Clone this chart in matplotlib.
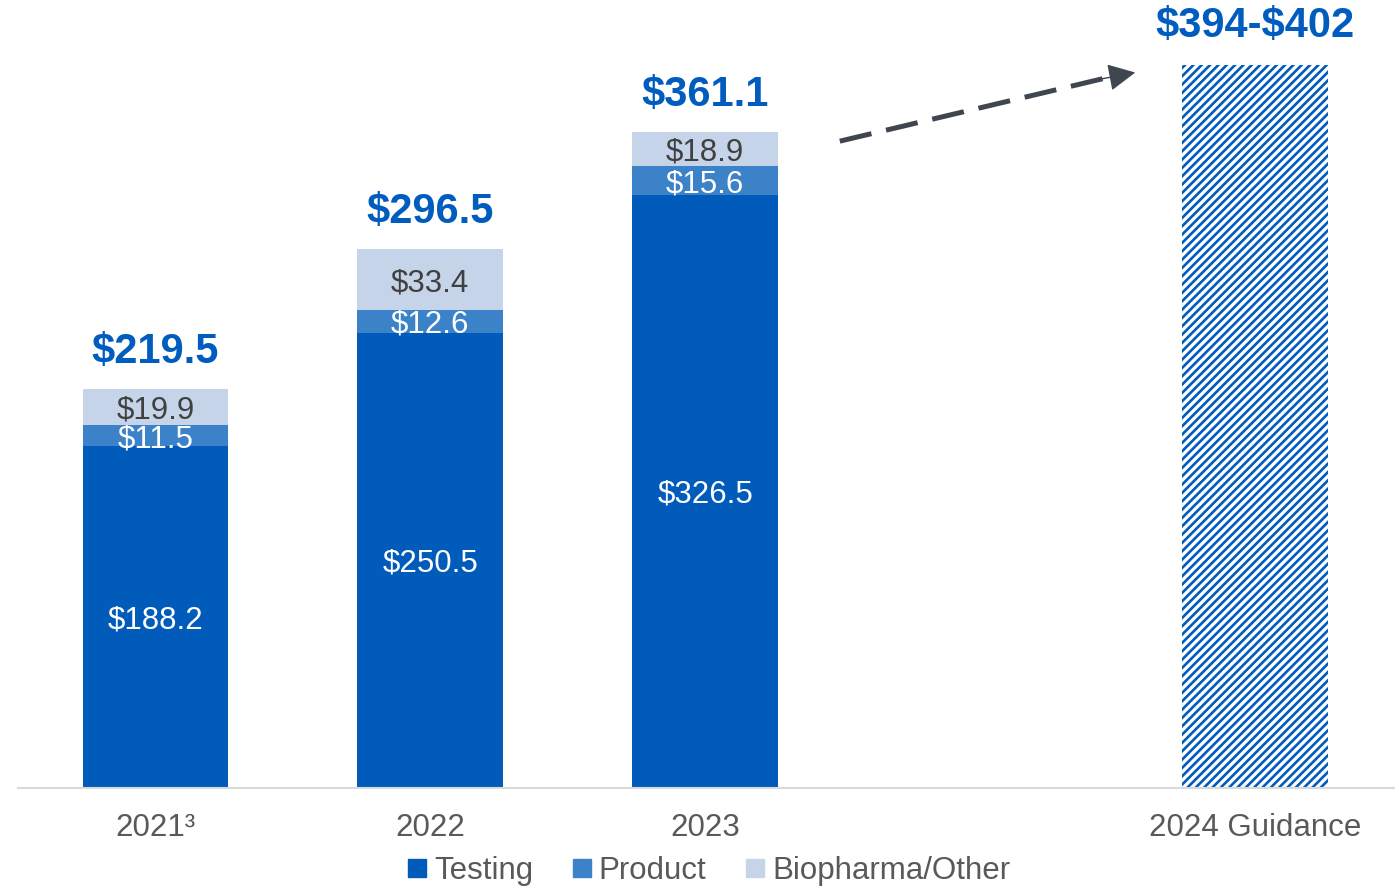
import matplotlib.pyplot as plt
import numpy as np
from matplotlib.lines import Line2D

plt.rcParams['font.family'] = ['Liberation Sans', 'DejaVu Sans']
plt.rcParams['hatch.linewidth'] = 1.9

years = ["2021\u00b3", "2022", "2023"]
guidance_label = "2024 Guidance"
testing = [188.2, 250.5, 326.5]
product = [11.5, 12.6, 15.6]
biopharma = [19.9, 33.4, 18.9]
totals = ["\\$219.5", "\\$296.5", "\\$361.1"]
guidance_mid = 398.0
guidance_text = "\\$394-\\$402"

c_test = "#005BBB"
c_prod = "#3B82C8"
c_bio = "#C5D4E8"
c_total = "#005CBF"
c_gray = "#595959"

fig = plt.figure(figsize=(13.95, 8.86), dpi=100)
ax = fig.add_axes([0.0129, 0.1106, 0.9871, 0.8894])

x = np.array([0, 1, 2])
w = 0.53
testing = np.array(testing)
product = np.array(product)
biopharma = np.array(biopharma)

ax.bar(x, testing, w, color=c_test)
ax.bar(x, product, w, bottom=testing, color=c_prod)
ax.bar(x, biopharma, w, bottom=testing + product, color=c_bio)

# segment labels
for i in range(3):
    ax.text(x[i], testing[i] / 2, f"\\${testing[i]:.1f}", ha="center", va="center_baseline",
            fontsize=22.5, color="white")
    ax.text(x[i], testing[i] + product[i] / 2, f"\\${product[i]:.1f}", ha="center",
            va="center_baseline", fontsize=22.5, color="white")
    ax.text(x[i], testing[i] + product[i] + biopharma[i] / 2, f"\\${biopharma[i]:.1f}",
            ha="center", va="center_baseline", fontsize=22.5, color="#404040")
    top = testing[i] + product[i] + biopharma[i]
    ax.annotate(totals[i], (x[i], top), xytext=(0, 30), textcoords="offset points",
                ha="center", va="center_baseline", fontsize=30, fontweight="bold", color=c_total)

# guidance bar
ax.bar([4], [guidance_mid], w, facecolor="white", edgecolor=c_test, linewidth=0, hatch="////")
ax.annotate(guidance_text, (4, guidance_mid), xytext=(0, 31), textcoords="offset points",
            ha="center", va="center_baseline", fontsize=30, fontweight="bold", color=c_total)

# dashed trend arrow
ax.plot([2.49, 3.45], [356, 390.5], color="#404650", lw=3.6, dashes=(6.5, 3),
        solid_capstyle="butt", dash_capstyle="butt")
ax.annotate("", xy=(3.565, 393.8), xytext=(3.44, 390.2),
            arrowprops=dict(arrowstyle="-|>,head_length=1.7,head_width=0.85",
                            color="#404650", lw=1, shrinkA=0, shrinkB=0))

ax.set_xlim(-0.5, 4.51)
ax.set_ylim(0, 433.7)
ax.set_xticks([0, 1, 2, 4])
ax.set_xticklabels(years + [guidance_label], fontsize=22.5, color=c_gray)
ax.tick_params(axis="x", length=0, pad=18)
ax.set_yticks([])
for s in ["top", "left", "right"]:
    ax.spines[s].set_visible(False)
ax.spines["bottom"].set_color("#D9D9D9")
ax.spines["bottom"].set_linewidth(1.5)

handles = [Line2D([], [], marker="s", linestyle="none", markersize=12.5, color=c)
           for c in (c_test, c_prod, c_bio)]
fig.legend(handles, ["Testing", "Product", "Biopharma/Other"], loc="center",
           bbox_to_anchor=(0.507, 0.017), ncol=3, frameon=False, fontsize=22.5,
           labelcolor=c_gray, handletextpad=0.15, columnspacing=1.15, handlelength=0.8,
           borderpad=0, borderaxespad=0)

plt.savefig("out.png", dpi=100)
